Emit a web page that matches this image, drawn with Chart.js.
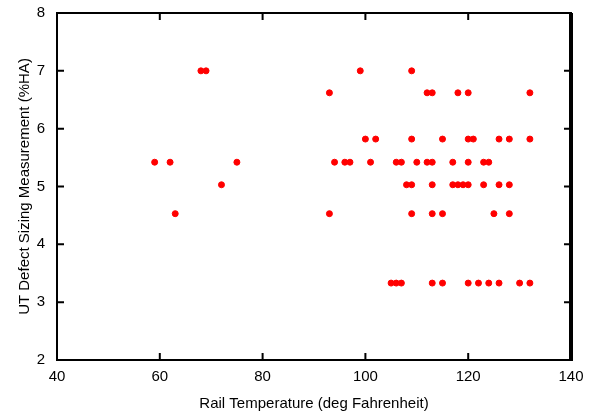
<!DOCTYPE html>
<html>
<head>
<meta charset="utf-8">
<script src="https://cdn.jsdelivr.net/npm/chart.js@4"></script>
<style>
  html, body { margin: 0; padding: 0; background: #fff; }
  #wrap { width: 593px; height: 417px; }
</style>
</head>
<body>
<div id="wrap"><canvas id="chart"></canvas></div>
<script>
// rail temperature (deg F) and UT defect sizing (%HA)
const temps = [
  59, 62, 75, 94, 96, 97, 101, 106, 107, 110, 112, 113, 117, 120, 123, 124,
  68, 69, 99, 109,
  93, 112, 113, 118, 120, 132,
  100, 102, 109, 115, 120, 121, 126, 128, 132,
  72, 108, 109, 113, 117, 118, 119, 120, 123, 126, 128,
  63, 93, 109, 113, 115, 125, 128,
  105, 106, 107, 113, 115, 120, 122, 124, 126, 130, 132
];
const sizing = [
  5.42, 5.42, 5.42, 5.42, 5.42, 5.42, 5.42, 5.42, 5.42, 5.42, 5.42, 5.42, 5.42, 5.42, 5.42, 5.42,
  7.0, 7.0, 7.0, 7.0,
  6.62, 6.62, 6.62, 6.62, 6.62, 6.62,
  5.82, 5.82, 5.82, 5.82, 5.82, 5.82, 5.82, 5.82, 5.82,
  5.03, 5.03, 5.03, 5.03, 5.03, 5.03, 5.03, 5.03, 5.03, 5.03, 5.03,
  4.53, 4.53, 4.53, 4.53, 4.53, 4.53, 4.53,
  3.33, 3.33, 3.33, 3.33, 3.33, 3.33, 3.33, 3.33, 3.33, 3.33, 3.33
];
const xTicks = [40, 60, 80, 100, 120, 140];
const yTicks = [2, 3, 4, 5, 6, 7, 8];

const points = temps.map((t, i) => ({ x: t, y: sizing[i] }));

// frame and inward tick marks like the original plot
const frame = {
  id: 'frame',
  afterDraw(chart) {
    const { ctx, chartArea: a, scales } = chart;
    ctx.save();
    ctx.strokeStyle = '#000';
    ctx.lineWidth = 2;
    ctx.strokeRect(a.left, a.top, a.right - a.left, a.bottom - a.top);
    ctx.lineWidth = 4;
    ctx.beginPath();
    ctx.moveTo(a.right, a.top);
    ctx.lineTo(a.right, a.bottom + 1);
    ctx.stroke();
    ctx.lineWidth = 2;
    ctx.beginPath();
    xTicks.forEach(v => {
      const px = scales.x.getPixelForValue(v);
      ctx.moveTo(px, a.bottom); ctx.lineTo(px, a.bottom - 7);
      ctx.moveTo(px, a.top); ctx.lineTo(px, a.top + 7);
    });
    yTicks.forEach(v => {
      const py = scales.y.getPixelForValue(v);
      ctx.moveTo(a.left, py); ctx.lineTo(a.left + 7, py);
      ctx.moveTo(a.right, py); ctx.lineTo(a.right - 7, py);
    });
    ctx.stroke();
    ctx.restore();
  }
};

const font = { family: '"Liberation Sans", Arial, sans-serif', size: 15 };

new Chart(document.getElementById('chart'), {
  type: 'scatter',
  data: {
    datasets: [{
      data: points,
      backgroundColor: '#ff0000',
      borderColor: '#ff0000',
      pointRadius: 3,
      pointHoverRadius: 3,
      borderWidth: 1
    }]
  },
  options: {
    responsive: true,
    maintainAspectRatio: false,
    animation: false,
    layout: { padding: { top: 2, right: 22, left: 0, bottom: 0 } },
    plugins: { legend: { display: false }, tooltip: { enabled: false } },
    scales: {
      x: {
        type: 'linear', min: 40, max: 140,
        afterBuildTicks: s => { s.ticks = xTicks.map(v => ({ value: v })); },
        afterFit: s => { s.height = 57; },
        grid: { display: false },
        border: { display: false },
        ticks: { color: '#000', font, padding: 0, maxRotation: 0 },
        title: { display: true, text: 'Rail Temperature (deg Fahrenheit)', color: '#000', font, padding: { top: 6 } }
      },
      y: {
        type: 'linear', min: 2, max: 8,
        afterBuildTicks: s => { s.ticks = yTicks.map(v => ({ value: v })); },
        afterFit: s => { s.width = 57; },
        grid: { display: false },
        border: { display: false },
        ticks: { color: '#000', font, padding: 4 },
        title: { display: true, text: 'UT Defect Sizing Measurement (%HA)', color: '#000', font, padding: { top: 16 } }
      }
    }
  },
  plugins: [frame]
});
</script>
</body>
</html>
